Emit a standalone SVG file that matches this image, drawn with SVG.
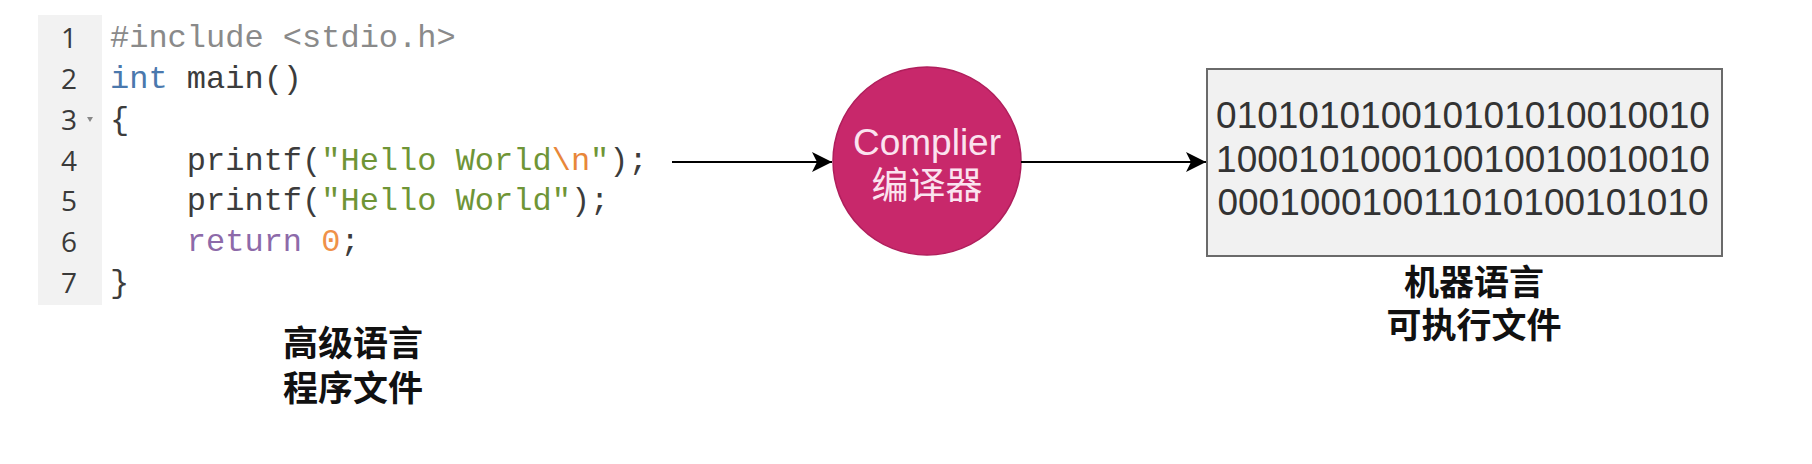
<svg xmlns="http://www.w3.org/2000/svg" width="1812" height="464" viewBox="0 0 1812 464">
  <style>
    .ln { font-family: "Open Sans", "Noto Sans", sans-serif; font-size: 28px; fill: #3a3a3a; text-anchor: end; }
    .code { font-family: "Liberation Mono", "DejaVu Sans Mono", monospace; font-size: 32px; fill: #3c3c3c; white-space: pre; }
    .pp { fill: #8a8a8a; }
    .kw { fill: #4a78ad; }
    .str { fill: #6f9536; }
    .esc { fill: #e8873a; }
    .ret { fill: #8d6aa9; }
    .num { fill: #ef9149; }
    .lbl { font-family: "Noto Sans CJK SC", "Noto Sans", sans-serif; font-size: 35px; font-weight: bold; fill: #111111; text-anchor: middle; }
    .ctext { font-family: "Liberation Sans", "Noto Sans CJK SC", sans-serif; font-size: 37px; fill: #fbe3ef; text-anchor: middle; }
    .bits { font-family: "Liberation Sans", Arial, sans-serif; font-size: 37px; fill: #333333; text-anchor: middle; }
    .edge { stroke: #000000; stroke-width: 2; fill: none; }
  </style>
  <defs>
    <marker id="arrow" markerUnits="userSpaceOnUse" markerWidth="22" markerHeight="22" viewBox="0 0 22 22" refX="21" refY="11" orient="auto">
      <path d="M1,1 L21,11 L1,21 L6,11 Z" fill="#000000"/>
    </marker>
  </defs>
  <rect width="1812" height="464" fill="#ffffff"/>

  <g id="source-code">
    <rect x="38" y="15" width="64" height="290" fill="#f2f2f2"/>
    <text class="ln" x="77" y="48">1</text>
    <text class="ln" x="77" y="89">2</text>
    <text class="ln" x="77" y="130">3</text>
    <text class="ln" x="77" y="171">4</text>
    <text class="ln" x="77" y="211">5</text>
    <text class="ln" x="77" y="252">6</text>
    <text class="ln" x="77" y="293">7</text>
    <path d="M87,117 L93,117 L90,122 Z" fill="#888888"/>
    <text class="code" x="110" y="47"><tspan class="pp">#include &lt;stdio.h&gt;</tspan></text>
    <text class="code" x="110" y="88"><tspan class="kw">int</tspan> main()</text>
    <text class="code" x="110" y="129">{</text>
    <text class="code" x="110" y="170">    printf(<tspan class="str">"Hello World</tspan><tspan class="esc">\n</tspan><tspan class="str">"</tspan>);</text>
    <text class="code" x="110" y="210">    printf(<tspan class="str">"Hello World"</tspan>);</text>
    <text class="code" x="110" y="251">    <tspan class="ret">return</tspan> <tspan class="num">0</tspan>;</text>
    <text class="code" x="110" y="292">}</text>
  </g>

  <g id="label-source">
    <text class="lbl" x="353" y="356"><tspan x="353" y="356">高级语言</tspan><tspan x="353" y="401">程序文件</tspan></text>
  </g>

  <g id="compiler">
    <circle cx="927" cy="161" r="94" fill="#c8286b" stroke="#b01f5c" stroke-width="1.5"/>
    <text class="ctext" x="927" y="155"><tspan x="927" y="155">Complier</tspan><tspan x="927" y="199">编译器</tspan></text>
  </g>

  <g id="machine-code">
    <rect x="1207" y="69" width="515" height="187" fill="#f1f1f1" stroke="#6a6a6a" stroke-width="2"/>
    <text class="bits" x="1463" y="128">010101010010101010010010</text>
    <text class="bits" x="1463" y="172">100010100010010010010010</text>
    <text class="bits" x="1463" y="215">000100010011010100101010</text>
  </g>

  <g id="label-machine">
    <text class="lbl" x="1474" y="295"><tspan x="1474" y="295">机器语言</tspan><tspan x="1474" y="338">可执行文件</tspan></text>
  </g>

  <g id="connectors">
    <line class="edge" x1="672" y1="162" x2="832" y2="162" marker-end="url(#arrow)"/>
    <line class="edge" x1="1021" y1="162" x2="1206" y2="162" marker-end="url(#arrow)"/>
  </g>
</svg>
